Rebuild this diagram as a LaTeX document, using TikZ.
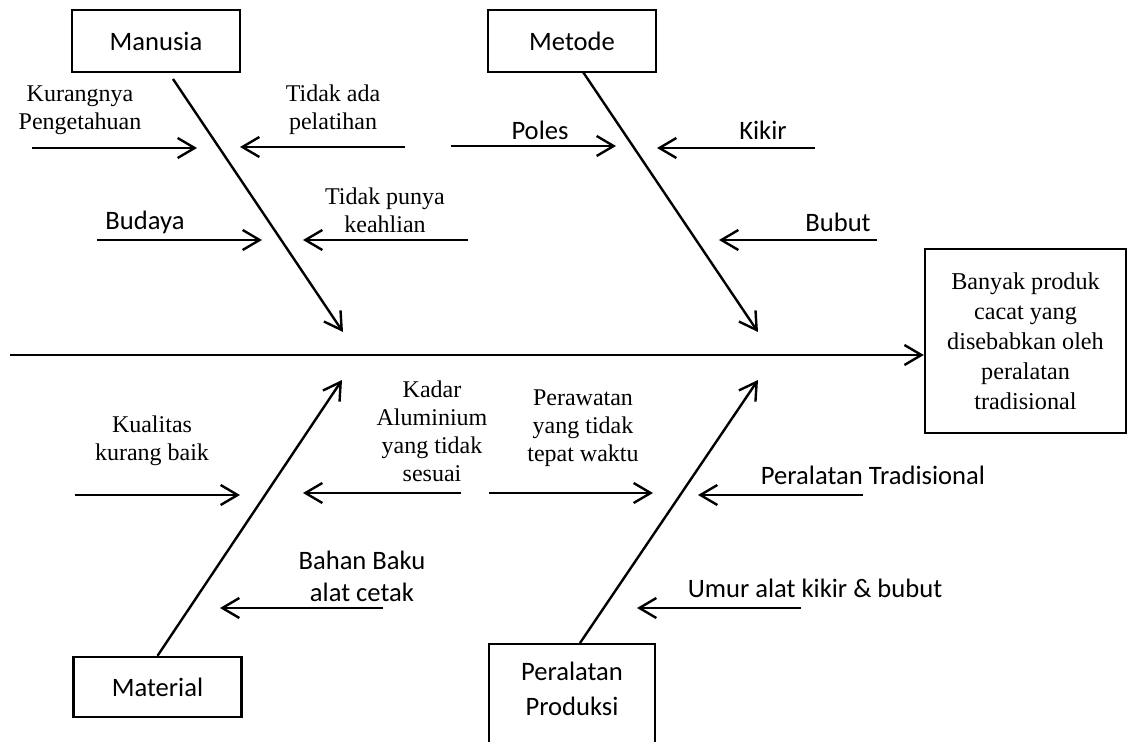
\documentclass[tikz,border=0pt]{standalone}
\usepackage{fontspec}
\setmainfont{Liberation Serif}
\newfontfamily\calfont{Carlito}
\usetikzlibrary{arrows.meta}

\begin{document}
\begin{tikzpicture}[x=0.5pt,y=-0.5pt,line width=1.2pt,
    >={Straight Barb[length=8.5pt,width=10pt,line width=1.2pt]},
    catbox/.style={draw,rectangle,minimum width=84pt,minimum height=31pt,
        font=\calfont\fontsize{13.3}{17.5}\selectfont,align=center},
    serlab/.style={align=center,font=\fontsize{12}{14}\selectfont},
    callab/.style={align=center,font=\calfont\fontsize{13.3}{16}\selectfont}]
    \useasboundingbox (0,0) rectangle (1128,742);

    % Define boxes
    \node[catbox] (man) at (156,41) {Manusia};
    \node[catbox] (met) at (572,41) {Metode};
    \node[catbox,minimum height=30pt] (mat) at (157.5,687) {Material};
    \node[catbox,anchor=north,minimum width=83pt,minimum height=50pt,text depth=5pt] (prod) at (572,643) {Peralatan\\Produksi};
    \node[draw,rectangle,minimum width=100.5pt,minimum height=92pt,align=center,
        font=\fontsize{12.1}{15}\selectfont] (res) at (1025.5,341)
        {Banyak produk\\cacat yang\\disebabkan oleh\\peralatan\\tradisional};

    % Spine and bones
    \coordinate (tail) at (10,355);
    \draw[->] (tail) -- (tail -| res.west);

    \coordinate (manA) at (173,79);  \coordinate (manB) at (343,332);
    \coordinate (metA) at (583,72);  \coordinate (metB) at (758,332);
    \coordinate (prodA) at (580,643); \coordinate (prodB) at (758,380);
    \coordinate (matB) at (342,380);
    \draw[->] (manA) -- (manB);
    \draw[->] (metA) -- (metB);
    \draw[->] (mat.north) -- (matB);
    \draw[->] (prodA) -- (prodB);

    % Cause arrows
    \foreach \n/\xa/\ya/\xb in {kur/32/148/197,pel/405/147/240,bud/97/240/262,
        kea/468/240/303,pol/451/146/616,kik/815/148/657,bub/877/240/719,
        kua/75/495/240,kad/461/493/303,bak/383/608/220,raw/489/493/653,
        trd/863/495/698,umr/801/608/637} {
        \coordinate (s\n) at (\xa,\ya);
        \coordinate (e\n) at (\xb,\ya);
        \draw[->] (s\n) -- (e\n);
    }

    % Labels
    \foreach \n/\x/\y/\txt in {kur/80/110/{Kurangnya\\Pengetahuan},
        pel/333/110/{Tidak ada\\pelatihan},kea/385/210/{Tidak punya\\keahlian},
        kua/152/441/{Kualitas\\kurang baik},
        kad/432/431/{Kadar\\Aluminium\\yang tidak\\sesuai},
        raw/583/428/{Perawatan\\yang tidak\\tepat waktu}} {
        \node[serlab] (l\n) at (\x,\y) {\txt};
    }
    \foreach \n/\x/\y/\txt in {bud/145/222/{Budaya},pol/540/130/{Poles},
        kik/763/130/{Kikir},bub/838/222/{Bubut},
        bak/362/576/{Bahan Baku\\alat cetak},
        trd/873/475/{Peralatan Tradisional},umr/815/588/{Umur alat kikir \& bubut}} {
        \node[callab] (l\n) at (\x,\y) {\txt};
    }

\end{tikzpicture}
\end{document}
